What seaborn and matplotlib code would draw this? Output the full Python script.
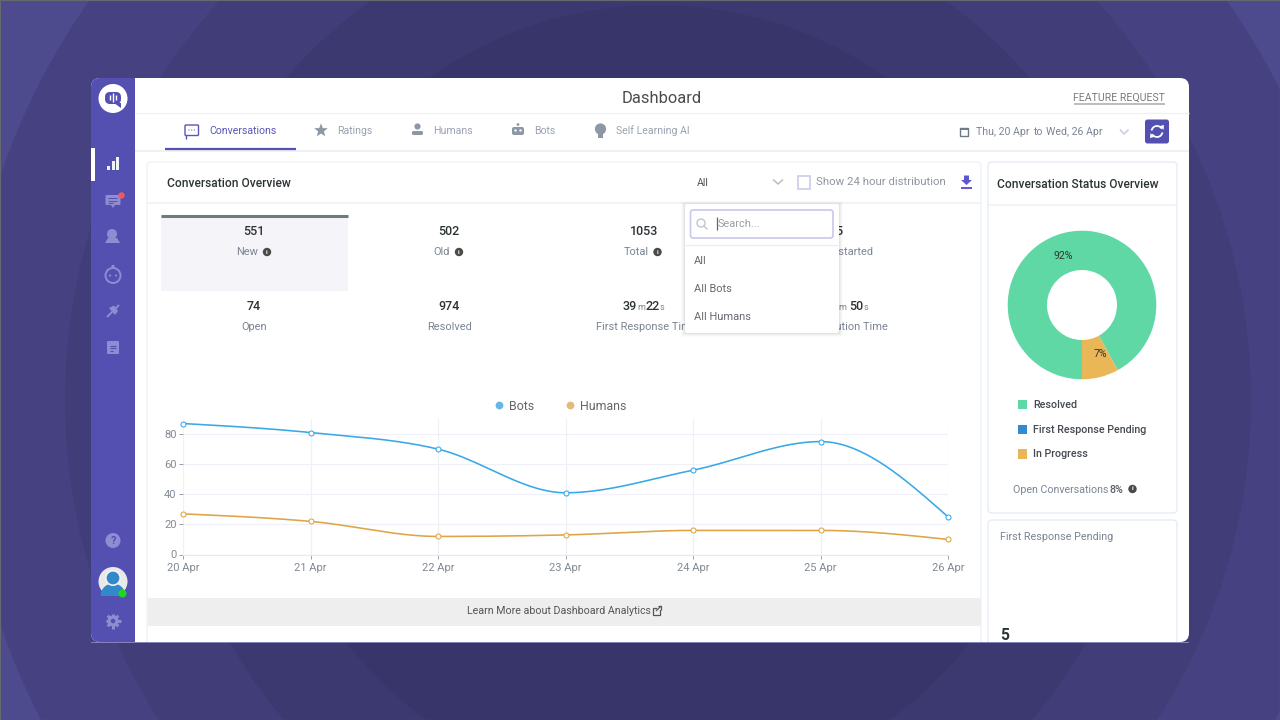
import numpy as np
import pandas as pd
import matplotlib
matplotlib.use("Agg")
import matplotlib.pyplot as plt
from matplotlib.patches import FancyBboxPatch, Rectangle, Circle, Polygon, Wedge, Arc
from matplotlib.lines import Line2D
import seaborn as sns

# ---------- data ----------
days = ["20 Apr", "21 Apr", "22 Apr", "23 Apr", "24 Apr", "25 Apr", "26 Apr"]
bots = [87, 81, 70, 41, 56, 75, 25]
humans = [27, 22, 12, 13, 16, 16, 10]
y_ticks = [0, 20, 40, 60, 80]
status_names = ["Resolved", "First Response Pending", "In Progress"]
status_values = [92, 0, 8]
status_labels = ["92%", "", "7%"]
status_colors = ["#60d8a6", "#2f8dcb", "#e9b757"]
tabs = ["Conversations", "Ratings", "Humans", "Bots", "Self Learning AI"]
kpi_row1 = ["551", "502", "1053"]
kpi_row1_names = ["New", "Old", "Total"]
kpi_row2 = ["74", "974"]
kpi_row2_names = ["Open", "Resolved"]
menu_items = ["All", "All Bots", "All Humans"]

sns.set_theme(style="white")
plt.rcParams["font.family"] = ["Roboto", "DejaVu Sans"]

INK = "#2d3436"
MUTED = "#7a8494"
PURPLE = "#5450b2"
LINE = "#f0f1f8"

fig = plt.figure(figsize=(12.8, 7.2), dpi=100)
pg = fig.add_axes([0, 0, 1, 1])
pg.set_xlim(0, 1280)
pg.set_ylim(720, 0)
pg.axis("off")


def T(x, y, s, px=11, c=MUTED, ha="left", w="normal", z=5, **kw):
    return pg.text(x, y + 0.7, s, fontsize=px * 0.72, color=c, ha=ha, va="center", fontweight=w, zorder=z, **kw)


def R(x0, y0, x1, y1, fc, z=2, ec="none", lw=0, r=0):
    if r:
        p = FancyBboxPatch((x0, y0), x1 - x0, y1 - y0, boxstyle=f"round,pad=0,rounding_size={r}",
                           fc=fc, ec=ec, lw=lw, zorder=z)
    else:
        p = Rectangle((x0, y0), x1 - x0, y1 - y0, fc=fc, ec=ec, lw=lw, zorder=z)
    pg.add_patch(p)
    return p


def C(x, y, r, fc, z=4, ec="none", lw=0):
    p = Circle((x, y), r, fc=fc, ec=ec, lw=lw, zorder=z)
    pg.add_patch(p)
    return p


def L(xs, ys, c, lw=1.0, z=4, **kw):
    pg.plot(xs, ys, color=c, lw=lw, zorder=z, solid_capstyle=kw.pop("cap", "butt"), **kw)


def info(x, y):
    C(x, y, 4.2, "#4a4a4a", z=6)
    T(x, y - 0.7, "i", 6.5, "white", ha="center", w="bold", z=7)


# ---------- background rings ----------
R(0, 0, 1280, 720, "#4d4a8d", z=0)
for rad, col in zip([695, 593, 492, 395], ["#464281", "#403d79", "#3c3971", "#38356b"]):
    pg.add_patch(Circle((658, 400), rad, fc=col, ec="none", zorder=0.5))
pg.add_patch(Rectangle((0, 0), 1280, 720, fc="none", ec="#68686f", lw=0.8, zorder=1))

# ---------- window ----------
win = R(91, 78, 1189, 642, "white", z=1.5, r=9)
clip_items = []
clip_items.append(R(91, 78, 135, 642, PURPLE, z=1.6))
L([135, 1189], [113, 113], "#f0f1f5", 1)
L([135, 1189], [150.5, 150.5], "#f0f1f5", 1.5)

# sidebar
C(113, 98.5, 14.5, "white")
pg.add_patch(FancyBboxPatch((105, 92), 16, 12, boxstyle="round,pad=0,rounding_size=5", fc=PURPLE, ec="none", zorder=5))
pg.add_patch(Polygon([[114, 103], [121, 103], [121, 108]], fc=PURPLE, ec="none", zorder=5))
for dx, h in zip([109.5, 112.7, 116], [3, 5, 3]):
    L([dx, dx], [98 - h, 98 + h - 1], "white", 1.0, z=6)
R(91, 148, 94.5, 181, "white", z=3)
for dx, top in zip([107, 111.5, 116], [166, 161, 156.5]):
    R(dx, top, dx + 3, 170, "#f2f2fb", z=4)
ICON = "#8f8cd3"
# chat
R(105.5, 195, 120.5, 205, ICON, z=4, r=1)
pg.add_patch(Polygon([[111, 205], [115, 205], [113, 208]], fc=ICON, ec="none", zorder=4))
for yy in [198, 200.5, 203]:
    L([107.5, 117 if yy < 203 else 113], [yy, yy], PURPLE, 0.7, z=5)
C(121.5, 195.5, 3.2, "#ee5a5f", z=6)
# people
C(112, 234, 5, ICON)
pg.add_patch(Polygon([[105, 243], [108, 238], [117, 238], [120, 243]], fc=ICON, ec="none", zorder=4))
# bot
C(113, 275.5, 7.5, "none", ec=ICON, lw=1.4)
C(113, 266.5, 1.6, ICON)
C(110, 275.5, 1.1, ICON)
C(116, 275.5, 1.1, ICON)
# plug
L([107, 119], [317, 305], ICON, 1.4)
pg.add_patch(Polygon([[109, 308], [114, 305.5], [118, 311], [115, 315]], fc=ICON, ec="none", zorder=4))
# document
R(107, 341, 119, 354, ICON, z=4, r=1)
for yy, xe in zip([345.5, 348, 350.5], [116, 116, 113]):
    L([109.5, xe], [yy, yy], PURPLE, 0.8, z=5)
# help
C(113, 540.5, 7.5, ICON)
T(113, 540.5, "?", 11, PURPLE, ha="center", w="bold", z=6)
# avatar
C(113, 581.5, 14.5, "#e9e9eb")
pg.add_patch(Wedge((113, 596), 12.5, 180, 360, fc="#3289c9", ec="none", zorder=5))
C(113, 578, 7.2, "#3289c9", z=6, ec="#f2f2f2", lw=1.2)
C(122.5, 593.5, 4, "#1fd51f", z=7)
# gear
C(113, 621, 5.5, ICON)
for a in np.arange(0, 180, 45):
    ca, sa = np.cos(np.radians(a)), np.sin(np.radians(a))
    L([113 - 7.5 * ca, 113 + 7.5 * ca], [621 - 7.5 * sa, 621 + 7.5 * sa], ICON, 2.2)
C(113, 621, 2.3, PURPLE, z=5)

# ---------- header ----------
T(661.5, 97.5, "Dashboard", 16.5, "#4c4c4c", ha="center")
T(1165, 97, "FEATURE REQUEST", 10.5, "#7c7c7c", ha="right")
L([1074, 1165], [103.5, 103.5], "#b0b0b0", 1.2)
for name, x, col in zip(tabs, [209, 337, 433, 534, 616],
                        ["#5a55b8", "#9aa2b0", "#9aa2b0", "#9aa2b0", "#9aa2b0"]):
    T(x, 129.8, name, 10.5, col)
L([165, 296], [148.5, 148.5], PURPLE, 1.6, z=6)
TI = "#8d97a6"
# tab icons
pg.add_patch(FancyBboxPatch((185, 125), 13.5, 10.5, boxstyle="round,pad=0,rounding_size=1", fc="white", ec="#5a55b8", lw=1.0, zorder=4))
L([185.5, 185.5], [135, 138.5], "#5a55b8", 1.0)
for xx in [189, 191.7, 194.4]:
    C(xx, 130, 0.6, "#5a55b8")
star = [[321 + (7.2 if k % 2 == 0 else 3.0) * np.sin(k * np.pi / 5),
         130.5 - (7.2 if k % 2 == 0 else 3.0) * np.cos(k * np.pi / 5)] for k in range(10)]
pg.add_patch(Polygon(star, fc=TI, ec="none", zorder=4))
C(417.5, 126.5, 3.1, TI)
R(412, 131, 423, 135, TI, z=4, r=1.5)
R(512, 127, 524, 135, TI, z=4, r=2)
C(518, 124.5, 1.4, TI)
C(515.5, 130.5, 1.2, "white", z=5)
C(520.5, 130.5, 1.2, "white", z=5)
C(600.5, 129, 5.6, TI)
R(598, 134, 603, 138, TI, z=4)
# date
R(959.5, 128, 968, 136, "white", z=4, ec="#6f7a85", lw=1.0)
L([959.5, 968], [129.3, 129.3], "#6f7a85", 1.4, z=5)
T(976, 131, "Thu, 20 Apr", 10.5, "#7b8494")
T(1033, 131, "to", 10.5, "#7b8494")
T(1046, 131, "Wed, 26 Apr", 10.5, "#7b8494")
L([1120, 1124, 1128.5], [129.5, 134, 129.5], "#c8cee2", 1.1)
R(1145, 119.5, 1169, 143.5, PURPLE, z=4, r=2.5)
pg.add_patch(Arc((1157, 131.5), 11, 11, theta1=190, theta2=330, ec="white", lw=1.3, zorder=6))
pg.add_patch(Arc((1157, 131.5), 11, 11, theta1=10, theta2=150, ec="white", lw=1.3, zorder=6))
pg.add_patch(Polygon([[1160, 126], [1164, 125], [1163.5, 130]], fc="white", ec="none", zorder=6))
pg.add_patch(Polygon([[1154, 137], [1150, 138], [1150.5, 133]], fc="white", ec="none", zorder=6))

# ---------- left card ----------
clip_items.append(R(147, 162, 981, 660, "white", z=2, ec="#f0f1f7", lw=1, r=4))
L([147, 981], [203, 203], "#f0f1f6", 1.2, z=3)
T(167, 182.5, "Conversation Overview", 12, INK, w="medium")
T(697, 182.5, "All", 10.5, "#555555")
L([773, 778, 783], [179.5, 184, 179.5], "#b9bdc6", 1.1)
R(797.5, 176, 809.5, 188.5, "white", z=4, ec="#c9cce6", lw=1.2)
T(816, 181, "Show 24 hour distribution", 11.4, "#8f96a0")
pg.add_patch(Polygon([[964, 175.5], [969, 175.5], [969, 180], [972, 180], [966.5, 185], [961, 180], [964, 180]], fc="#5e58d0", ec="none", zorder=4))
L([961, 972], [187.5, 187.5], "#5e58d0", 1.4)

# KPI tiles
R(161, 216, 348, 290.5, "#f4f4f9", z=3)
L([161, 348], [215.5, 215.5], "#6b7b80", 2.2)
for val, name, cx, nx, ix in zip(kpi_row1, kpi_row1_names, [254, 449, 644], [247, 442, 636.5], [267, 459, 657.5]):
    T(cx, 231, val, 12.5, INK, ha="center", w="medium")
    T(nx, 251, name, 11, MUTED, ha="center")
    info(ix, 252)
T(842, 231, "5", 12.5, INK, ha="right", w="medium", z=4)
T(873.5, 251, "Unstarted", 11, MUTED, ha="right", z=4)
for val, name, cx in zip(kpi_row2, kpi_row2_names, [254, 449]):
    T(cx, 306, val, 12.5, INK, ha="center", w="medium")
    T(cx, 326, name, 11, MUTED, ha="center")
T(623, 306, "39", 12.5, INK, w="medium")
T(637, 307.2, "m", 9, MUTED)
T(645.5, 306, "22", 12.5, INK, w="medium")
T(659.5, 307.2, "s", 9, MUTED)
T(596, 326, "First Response Time", 11, MUTED, z=4)
T(846, 307.2, "m", 9, MUTED, ha="right", z=4)
T(849, 306, "50", 12.5, INK, w="medium")
T(864, 307.2, "s", 9, MUTED)
T(888, 326, "Resolution Time", 11, MUTED, ha="right", z=4)

# dropdown
for i, a in zip([4, 3, 2, 1], [0.015, 0.02, 0.03, 0.04]):
    R(685 - i, 204 - i + 1, 839 + i, 333 + i, "black", z=7).set_alpha(a)
R(685, 204, 839, 333, "white", z=8, r=2)
R(690.5, 210, 833, 238, "white", z=9, ec="#c9c7ee", lw=1.2, r=2.5)
pg.add_patch(Circle((701, 223), 4, fc="none", ec="#c2c5cc", lw=1.0, zorder=10))
L([704, 707.5], [226, 229.5], "#c2c5cc", 1.0, z=10)
L([717.3, 717.3], [217, 230], "#666666", 0.9, z=10)
T(718, 223.5, "Search...", 11, "#9aa0a8", z=10)
L([685, 839], [245, 245], "#eeeeee", 1, z=9)
for name, yy in zip(menu_items, [260, 288, 316]):
    T(694, yy, name, 11, "#666a70", z=10)

# banner
R(147.5, 598, 981, 625.5, "#eeeeee", z=3)
T(467, 610.5, "Learn More about Dashboard Analytics", 10.6, "#555555")
R(652.5, 607.5, 660, 615, "none", z=4, ec="#555555", lw=0.9)
R(656.5, 605, 662, 610, "#eeeeee", z=4.5)
L([656, 661], [611, 606], "#555555", 0.9, z=5)
L([657.5, 661, 661], [606, 606, 609.5], "#555555", 0.9, z=5)

# ---------- right cards ----------
R(988, 162, 1177, 513, "white", z=2, ec="#e6ebf6", lw=1, r=4)
L([988, 1177], [205, 205], "#f0f1f6", 1.2, z=3)
T(997, 183.5, "Conversation Status Overview", 12, INK, w="medium")
for name, col, yy in zip(status_names, status_colors, [404.5, 429.5, 454]):
    R(1017.5, yy - 4.7, 1027, yy + 4.7, col, z=4)
    T(1033, yy - 0.5, name, 10.7, "#444a50", w="medium")
T(1013, 489.5, "Open Conversations", 10.6, MUTED)
T(1110, 489.5, "8%", 10.6, "#5a6068", w="medium")
info(1132.5, 489)
clip_items.append(R(988, 520, 1177, 660, "white", z=2, ec="#e6ebf6", lw=1, r=4))
T(1000, 536.5, "First Response Pending", 10.8, MUTED)
T(1000, 635, "5", 15.5, INK, w="bold")

for p in clip_items:
    p.set_clip_path(win.get_path(), win.get_transform())
pg.add_patch(Rectangle((91, 642), 1098, 1, fc="#8582b8", ec="none", zorder=1.4))


# ---------- line chart ----------
def px_axes(x0, y0, x1, y1):
    a = fig.add_axes([x0 / 1280, 1 - y1 / 720, (x1 - x0) / 1280, (y1 - y0) / 720])
    a.patch.set_alpha(0)
    return a


def monotone(y, n=40):
    """Monotone cubic drawing path through the read values (d3 curveMonotoneX)."""
    y = np.asarray(y, float)
    s = np.diff(y)
    t = np.zeros_like(y)
    for i in range(1, len(y) - 1):
        t[i] = (np.sign(s[i - 1]) + np.sign(s[i])) * min(abs(s[i - 1]), abs(s[i]), 0.25 * abs(s[i - 1] + s[i]))
    t[0] = (3 * s[0] - t[1]) / 2
    t[-1] = (3 * s[-1] - t[-2]) / 2
    xs, ys = [], []
    for i in range(len(s)):
        u = np.linspace(0, 1, n)
        h = (2 * u**3 - 3 * u**2 + 1) * y[i] + (u**3 - 2 * u**2 + u) * t[i] + (-2 * u**3 + 3 * u**2) * y[i + 1] + (u**3 - u**2) * t[i + 1]
        xs.append(i + u)
        ys.append(h)
    return np.concatenate(xs), np.concatenate(ys)


ax = px_axes(183, 419, 948, 554.5)
ax.set_xlim(0, len(days) - 1)
ax.set_ylim(0, 90)
BLUE, GOLD = "#39a8e7", "#dea445"
pos = np.arange(len(days))
ax.set_xticks(pos, days)
ax.set_yticks(y_ticks)
ax.grid(True, color=LINE, lw=0.9)
ax.set_axisbelow(True)
for side in ["top", "right", "left"]:
    ax.spines[side].set_visible(False)
ax.spines["bottom"].set_color("#e8eaf3")
ax.spines["bottom"].set_linewidth(0.9)
ax.tick_params(axis="both", length=3, width=0.7, color="#9aa0a8", labelcolor="#828a94", labelsize=8.0, pad=1.5, bottom=True, left=True)
ax.tick_params(axis="x", pad=3)
for series, col in zip([bots, humans], [BLUE, GOLD]):
    cx, cy = monotone(series)
    sns.lineplot(x=cx, y=cy, ax=ax, color=col, lw=1.15, legend=False, errorbar=None, sort=False, estimator=None)
    sns.scatterplot(x=pos, y=series, ax=ax, s=13, color="white", edgecolor=col, linewidth=0.75, legend=False, zorder=6, clip_on=False)
ax.set_xlabel("")
ax.set_ylabel("")
handles = [Line2D([], [], ls="", marker="o", ms=4.6, color="#63b8e8"), Line2D([], [], ls="", marker="o", ms=4.6, color="#e3bb7c")]
fig.legend(handles, ["Bots", "Humans"], loc="center", bbox_to_anchor=(559.5 / 1280, 1 - 406 / 720), ncol=2, frameon=False,
           fontsize=8.9, labelcolor="#666666", handlelength=1.0, handletextpad=0.3, columnspacing=2.4, borderpad=0)

# ---------- donut ----------
pa = px_axes(1007.7, 230.7, 1156.3, 379.3)
wedges, _ = pa.pie(status_values, colors=status_colors, startangle=270, counterclock=False, radius=1,
                   wedgeprops=dict(width=1 - 35 / 74.3, linewidth=0))
pa.set_xlim(-1, 1)
pa.set_ylim(-1, 1)
for w, lab in zip(wedges, status_labels):
    if lab:
        a = np.radians((w.theta1 + w.theta2) / 2 + 6)
        pa.text(0.71 * np.cos(a), 0.71 * np.sin(a), lab, fontsize=7.6, color="#333333", ha="center", va="center")

fig.savefig("out.png", dpi=100)
